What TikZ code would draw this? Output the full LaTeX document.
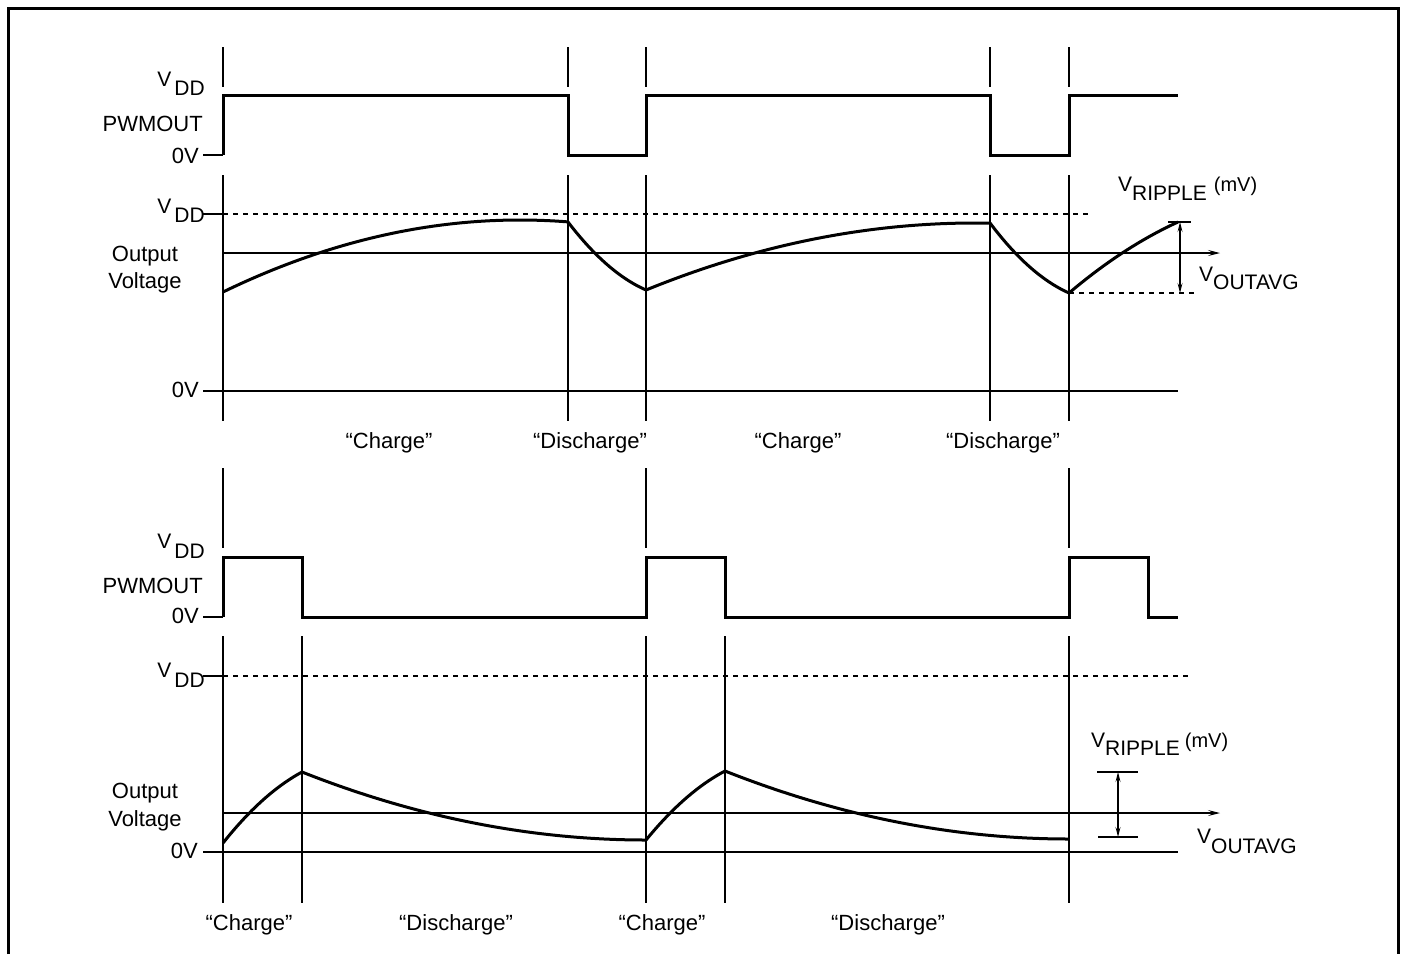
\documentclass[tikz,border=0pt]{standalone}
\usepackage{fontspec}
\setmainfont{Liberation Sans}
\usetikzlibrary{arrows.meta}
\begin{document}
\begin{tikzpicture}[x=1pt,y=-1pt,
  thinline/.style={line width=1.2pt},
  sig/.style={line width=3pt, line join=miter},
  axisline/.style={line width=2.6pt},
  dashline/.style={line width=1.2pt, dash pattern=on 5pt off 5pt},
  lbl/.style={font=\fontsize{22}{26}\selectfont, inner sep=0pt},
  slbl/.style={font=\fontsize{21}{25}\selectfont, inner sep=0pt},
  mvlbl/.style={font=\fontsize{20}{24}\selectfont},
  arr/.style={line width=1.2pt, -{Stealth[length=12pt,width=6pt,inset=5pt]}},
  darr/.style={line width=1.2pt, {Stealth[length=10pt,width=5pt,inset=4pt]}-{Stealth[length=10pt,width=5pt,inset=4pt]}},
]
\useasboundingbox (0,0) rectangle (1402,954);
% frame (open at the bottom)
\draw[line width=3pt] (8,954) -- (8,8) -- (1398,8) -- (1398,954);

% ================= TOP DIAGRAM =================
\foreach \x in {223,568,646,990,1069} \draw[thinline] (\x,47) -- (\x,87);
\draw[thinline] (203,155) -- (223,155);
\draw[sig] (223,155) -- (223,95) -- (568,95) -- (568,155) -- (646,155) -- (646,95)
  -- (990,95) -- (990,155) -- (1069,155) -- (1069,95) -- (1178,95);
\foreach \x in {223,568,646,990,1069} \draw[thinline] (\x,175) -- (\x,421);
\draw[thinline] (203,214) -- (223,214);
\draw[dashline] (223,214) -- (1088,214);
\draw[arr] (223,253) -- (1220,253);
\draw[thinline] (203,391) -- (223,391);
\draw[axisline] (223,391) -- (1178,391);
\draw[sig, line join=round]
  plot[domain=223:568, samples=50] (\x, {220+72*((520-\x)/297)*((520-\x)/297)})
  -- plot[domain=568:646, samples=20] (\x, {222+68*(1.5*(\x-568)/78-0.5*((\x-568)/78)*((\x-568)/78))})
  -- plot[domain=646:990, samples=50] (\x, {223+67*((975-\x)/329)*((975-\x)/329)})
  -- plot[domain=990:1069, samples=20] (\x, {223+70*(1.5*(\x-990)/79-0.5*((\x-990)/79)*((\x-990)/79))})
  -- plot[domain=1069:1178, samples=20] (\x, {293-71*(1.3*(\x-1069)/109-0.3*((\x-1069)/109)*((\x-1069)/109))});
\draw[thinline] (1168,222) -- (1191,222);
\draw[darr] (1180,222) -- (1180,293);
\draw[dashline] (1069,293) -- (1195,293);

\node[slbl, anchor=base east] (vddA) at (205,86) {V\hspace{3pt}\raisebox{-9pt}{DD}};
\node[lbl, anchor=base east] (pwmA) at (203,131) {PWMOUT};
\node[lbl, anchor=base east] (zvA) at (199,163) {0V};
\node[slbl, anchor=base east] (vddB) at (205,213) {V\hspace{3pt}\raisebox{-9pt}{DD}};
\node[lbl, anchor=base] (outA) at (145,261) {Output};
\node[lbl, anchor=base] (voltA) at (145,288) {Voltage};
\node[lbl, anchor=base east] (zvB) at (199,397) {0V};
\node[lbl, anchor=base] (chA) at (389,448) {“Charge”};
\node[lbl, anchor=base] (dchA) at (590,448) {“Discharge”};
\node[lbl, anchor=base] (chB) at (798,448) {“Charge”};
\node[lbl, anchor=base] (dchB) at (1003,448) {“Discharge”};
\node[slbl, anchor=base west] (ripA) at (1118,191) {V\raisebox{-9pt}{RIPPLE}\hspace{7pt}{\fontsize{20}{24}\selectfont(mV)}};
\node[slbl, anchor=base west] (avgA) at (1199,281) {V\raisebox{-8pt}{OUTAVG}};

% ================= BOTTOM DIAGRAM =================
\foreach \x in {223,646,1069} \draw[thinline] (\x,468) -- (\x,548);
\draw[thinline] (203,617) -- (223,617);
\draw[sig] (223,617) -- (223,557) -- (302,557) -- (302,617) -- (646,617) -- (646,557)
  -- (725,557) -- (725,617) -- (1069,617) -- (1069,557) -- (1148,557) -- (1148,617) -- (1178,617);
\foreach \x in {223,302,646,725,1069} \draw[thinline] (\x,636) -- (\x,903);
\draw[thinline] (203,676) -- (223,676);
\draw[dashline] (223,676) -- (1188,676);
\draw[arr] (223,813) -- (1220,813);
\draw[thinline] (203,852) -- (223,852);
\draw[axisline] (223,852) -- (1178,852);
\draw[sig, line join=round]
  plot[domain=223:302, samples=20] (\x, {843-71*(1.4*(\x-223)/79-0.4*((\x-223)/79)*((\x-223)/79))})
  -- plot[domain=302:646, samples=50] (\x, {840-68*((646-\x)/344)*((646-\x)/344)})
  -- plot[domain=646:725, samples=20] (\x, {840-69*(1.4*(\x-646)/79-0.4*((\x-646)/79)*((\x-646)/79))})
  -- plot[domain=725:1069, samples=50] (\x, {839-68*((1069-\x)/344)*((1069-\x)/344)});
\draw[thinline] (1097,772) -- (1138,772);
\draw[thinline] (1098,837) -- (1138,837);
\draw[darr] (1118,772) -- (1118,837);

\node[slbl, anchor=base east] (vddC) at (205,548) {V\hspace{3pt}\raisebox{-10pt}{DD}};
\node[lbl, anchor=base east] (pwmB) at (203,593) {PWMOUT};
\node[lbl, anchor=base east] (zvC) at (199,623) {0V};
\node[slbl, anchor=base east] (vddD) at (205,677) {V\hspace{3pt}\raisebox{-10pt}{DD}};
\node[lbl, anchor=base] (outB) at (145,798) {Output};
\node[lbl, anchor=base] (voltB) at (145,826) {Voltage};
\node[lbl, anchor=base east] (zvD) at (198,858) {0V};
\node[lbl, anchor=base] (chC) at (249,930) {“Charge”};
\node[lbl, anchor=base] (dchC) at (456,930) {“Discharge”};
\node[lbl, anchor=base] (chD) at (662,930) {“Charge”};
\node[lbl, anchor=base] (dchD) at (888,930) {“Discharge”};
\node[slbl, anchor=base west] (ripB) at (1091,747) {V\raisebox{-8pt}{RIPPLE}\hspace{5pt}{\fontsize{20}{24}\selectfont(mV)}};
\node[slbl, anchor=base west] (avgB) at (1197,843) {V\raisebox{-10pt}{OUTAVG}};
\end{tikzpicture}
\end{document}
